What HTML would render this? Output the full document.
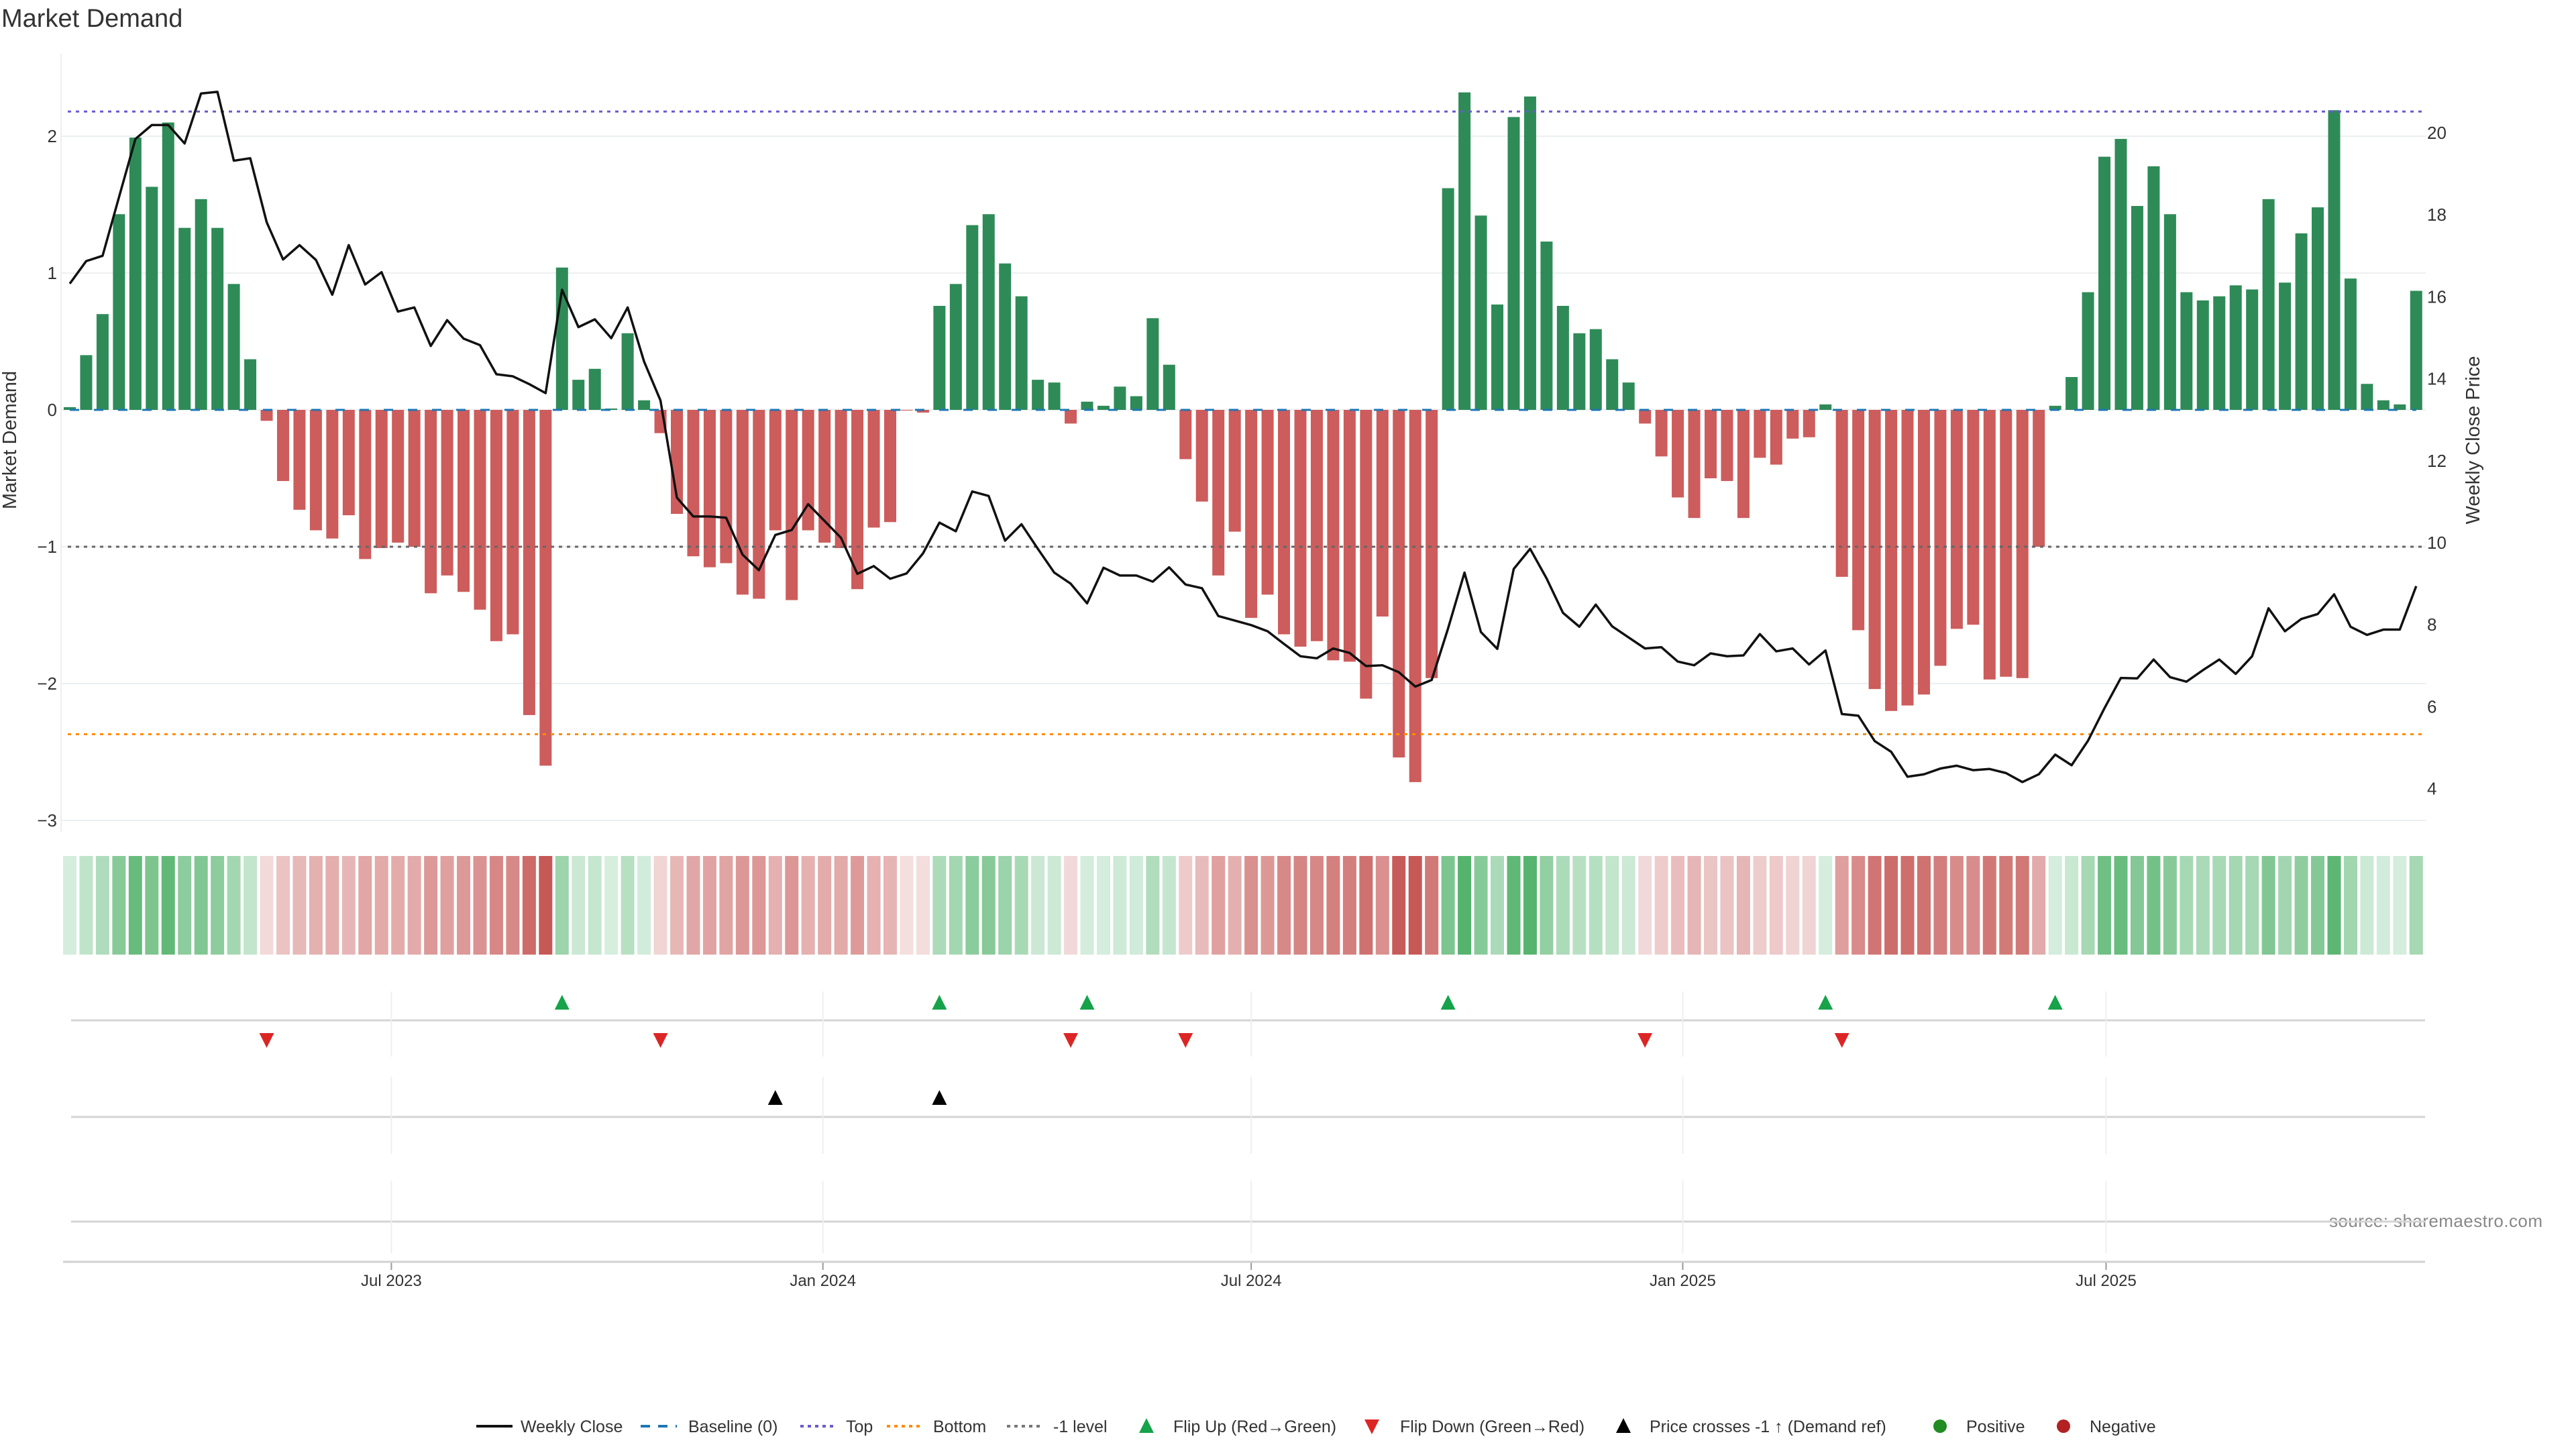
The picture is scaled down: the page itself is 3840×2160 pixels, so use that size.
<!DOCTYPE html>
<html><head><meta charset="utf-8"><style>
html,body{margin:0;padding:0;background:#fff;}
svg{display:block;font-family:"Liberation Sans","DejaVu Sans",sans-serif;}
</style></head><body>
<svg id="chart" width="3840" height="2160" viewBox="0 0 3840 2160" xmlns="http://www.w3.org/2000/svg">
<text x="2" y="40" font-size="38" fill="#333">Market Demand</text>
<text transform="translate(24,656) rotate(-90)" text-anchor="middle" font-size="29" fill="#333">Market Demand</text>
<text transform="translate(3696,656) rotate(-90)" text-anchor="middle" font-size="29" fill="#333">Weekly Close Price</text>
<text x="3472" y="1829" font-size="26" fill="#888" textLength="318">source: sharemaestro.com</text>
<g id="grid"></g><g id="bars"></g><g id="refs"></g><g id="price"></g><g id="heat"></g><g id="events"></g><g id="xaxis"></g>
<g id="legend"></g>
</svg>
<script>
const demand=[0.02,0.40,0.70,1.43,1.99,1.63,2.10,1.33,1.54,1.33,0.92,0.37,-0.08,-0.52,-0.73,-0.88,-0.94,-0.77,-1.09,-1.01,-0.97,-1.00,-1.34,-1.21,-1.33,-1.46,-1.69,-1.64,-2.23,-2.60,1.04,0.22,0.30,0.01,0.56,0.07,-0.17,-0.76,-1.07,-1.15,-1.12,-1.35,-1.38,-0.88,-1.39,-0.88,-0.97,-1.01,-1.31,-0.86,-0.82,-0.005,-0.02,0.76,0.92,1.35,1.43,1.07,0.83,0.22,0.20,-0.10,0.06,0.03,0.17,0.10,0.67,0.33,-0.36,-0.67,-1.21,-0.89,-1.52,-1.35,-1.64,-1.73,-1.69,-1.83,-1.84,-2.11,-1.51,-2.54,-2.72,-1.96,1.62,2.32,1.42,0.77,2.14,2.29,1.23,0.76,0.56,0.59,0.37,0.20,-0.10,-0.34,-0.64,-0.79,-0.50,-0.52,-0.79,-0.35,-0.40,-0.21,-0.20,0.04,-1.22,-1.61,-2.04,-2.20,-2.16,-2.08,-1.87,-1.60,-1.57,-1.97,-1.95,-1.96,-1.00,0.03,0.24,0.86,1.85,1.98,1.49,1.78,1.43,0.86,0.80,0.83,0.91,0.88,1.54,0.93,1.29,1.48,2.19,0.96,0.19,0.07,0.04,0.87];
const price=[16.32,16.87,17.0,18.43,19.85,20.19,20.19,19.74,20.96,21.0,19.32,19.38,17.82,16.91,17.26,16.9,16.05,17.26,16.3,16.6,15.64,15.74,14.8,15.43,14.98,14.82,14.11,14.06,13.87,13.65,16.17,15.26,15.45,14.99,15.74,14.42,13.47,11.1,10.64,10.64,10.61,9.71,9.33,10.19,10.31,10.94,10.53,10.12,9.24,9.43,9.12,9.25,9.74,10.49,10.28,11.25,11.14,10.05,10.45,9.85,9.27,9.0,8.52,9.39,9.2,9.2,9.05,9.4,8.98,8.89,8.21,8.1,7.99,7.84,7.53,7.23,7.18,7.42,7.31,6.99,7.01,6.84,6.49,6.65,7.91,9.27,7.82,7.41,9.36,9.85,9.13,8.29,7.95,8.49,7.96,7.69,7.42,7.45,7.1,7.01,7.3,7.23,7.25,7.77,7.35,7.42,7.03,7.37,5.82,5.78,5.16,4.9,4.29,4.35,4.49,4.56,4.45,4.48,4.38,4.16,4.35,4.83,4.57,5.17,5.96,6.70,6.69,7.15,6.72,6.61,6.89,7.15,6.8,7.23,8.4,7.84,8.14,8.26,8.74,7.95,7.75,7.88,7.88,8.94];
const yTicks=[2,1,0,-1,-2,-3];
const y2Ticks=[4,6,8,10,12,14,16,18,20];
const xTickLabels=["Jul 2023","Jan 2024","Jul 2024","Jan 2025","Jul 2025"];
const xTickWeeks=[19.6,45.9,72.0,98.3,124.1];
const topLevel=2.18, bottomLevel=-2.37, refLevel=-1, priceRef=10;

const NS="http://www.w3.org/2000/svg";
function mk(tag,attrs,parent){const e=document.createElementNS(NS,tag);for(const k in attrs)e.setAttribute(k,attrs[k]);parent.appendChild(e);return e;}
const X0=104,DX=24.46,XL=91,XR=3616;
const xs=i=>X0+i*DX;
const y=v=>611-v*204;
const y2=p=>198+(20-p)*61.1;
const G=id=>document.getElementById(id);

const grid=G('grid');
yTicks.forEach(t=>{
  const l=mk('line',{x1:XL,x2:XR,y1:y(t),y2:y(t),stroke:'#eceff2','stroke-width':2},grid);
  
  
  const tx=mk('text',{x:85,y:y(t)+9,'text-anchor':'end','font-size':26,fill:'#333'},grid);
  tx.textContent=(t<0?'\u2212'+(-t):t);
  
  
});
mk('line',{x1:XL,x2:XL,y1:80,y2:1240,stroke:'#eceff2','stroke-width':2},grid);
y2Ticks.forEach(t=>{
  const tx=mk('text',{x:3618,y:y2(t)+9,'font-size':26,fill:'#333'},grid);
  tx.textContent=t;
  
  
});

const bars=G('bars');
demand.forEach((v,i)=>{
  const top=Math.min(y(v),y(0)),h=Math.abs(y(v)-y(0));
  const r=mk('rect',{x:xs(i)-9,y:top,width:18,height:Math.max(h,0.5),fill:v>=0?'#2e8b57':'#cd5c5c'},bars);
  
  
});

const refs=G('refs');
function ref(v,col,dash,name){const l=mk('line',{x1:XL+10,x2:XR,y1:y(v),y2:y(v),stroke:col,'stroke-width':3,'stroke-dasharray':dash},refs);
  
  }
ref(topLevel,'#6a5acd','5 7','top-line');
ref(bottomLevel,'#ff8c00','5 7','bottom-line');
ref(refLevel,'#666','5 7','minus-one-level-line');
const bl=mk('line',{x1:X0,x2:xs(demand.length-1),y1:y(0),y2:y(0),stroke:'#1f77b4','stroke-width':3,'stroke-dasharray':'14 22'},refs);



const pl=mk('polyline',{points:price.map((p,i)=>xs(i)+','+y2(p)).join(' '),fill:'none',stroke:'#111','stroke-width':3.5,'stroke-linejoin':'round'},G('price'));



const heat=G('heat');
function mix(a,b,t){return 'rgb('+a.map((c,k)=>Math.round(c+(b[k]-c)*t)).join(',')+')';}
demand.forEach((v,i)=>{
  const t=Math.min(Math.abs(v)/2.6,1);
  const col=v>=0?mix([214,238,222],[70,172,95],t):mix([244,222,222],[198,88,86],t);
  const r=mk('rect',{x:xs(i)-10,y:1276,width:20,height:147,fill:col},heat);
  
  
});

const ev=G('events');
[1521,1665,1821].forEach(yy=>{const l=mk('line',{x1:106,x2:3615,y1:yy,y2:yy,stroke:'#d4d4d4','stroke-width':3},ev);
  
  });
const xt=G('xaxis');
xTickWeeks.forEach((w,k)=>{
  const gx=xs(w);
  [[1478,1575],[1605,1720],[1760,1868]].forEach(s=>{mk('line',{x1:gx,x2:gx,y1:s[0],y2:s[1],stroke:'#eceff2','stroke-width':2},ev);});
  mk('line',{x1:gx,x2:gx,y1:1881,y2:1893,stroke:'#999','stroke-width':2},xt);
  const tx=mk('text',{x:gx,y:1917,'text-anchor':'middle','font-size':24,fill:'#333'},xt);
  tx.textContent=xTickLabels[k];
  
  
});
const ax=mk('line',{x1:94,x2:3615,y1:1881,y2:1881,stroke:'#d0d0d0','stroke-width':3},xt);


function tri(cx,cy,up,col){const s=11;const pts=up?`${cx},${cy-s} ${cx-s},${cy+s} ${cx+s},${cy+s}`:`${cx},${cy+s} ${cx-s},${cy-s} ${cx+s},${cy-s}`;return mk('polygon',{points:pts,fill:col},ev);}
for(let i=1;i<demand.length;i++){
  if(demand[i-1]<0&&demand[i]>=0){const t=tri(xs(i),1494,true,'#16a34a');
    
    }
  if(demand[i-1]>=0&&demand[i]<0){const t=tri(xs(i),1551,false,'#dc2626');
    
    }
  if(price[i-1]<priceRef&&price[i]>=priceRef){const t=tri(xs(i),1636,true,'#000');
    
    }
}

const lg=G('legend');const LY=2126;
function ltext(x,s){const t=mk('text',{x:x,y:LY+9,'font-size':25,fill:'#333'},lg);t.textContent=s;}
mk('line',{x1:710,x2:764,y1:LY,y2:LY,stroke:'#111','stroke-width':4},lg);ltext(776,'Weekly Close');
mk('line',{x1:955,x2:1009,y1:LY,y2:LY,stroke:'#1f77b4','stroke-width':4,'stroke-dasharray':'14 12'},lg);ltext(1026,'Baseline (0)');
mk('line',{x1:1193,x2:1247,y1:LY,y2:LY,stroke:'#6a5acd','stroke-width':4,'stroke-dasharray':'5 6'},lg);ltext(1261,'Top');
mk('line',{x1:1322,x2:1376,y1:LY,y2:LY,stroke:'#ff8c00','stroke-width':4,'stroke-dasharray':'5 6'},lg);ltext(1391,'Bottom');
mk('line',{x1:1501,x2:1555,y1:LY,y2:LY,stroke:'#777','stroke-width':4,'stroke-dasharray':'5 6'},lg);ltext(1570,'-1 level');
mk('polygon',{points:`1709,${LY-12} 1698,${LY+10} 1720,${LY+10}`,fill:'#16a34a'},lg);ltext(1749,'Flip Up (Red\u2192Green)');
mk('polygon',{points:`2045,${LY+12} 2034,${LY-10} 2056,${LY-10}`,fill:'#dc2626'},lg);ltext(2087,'Flip Down (Green\u2192Red)');
mk('polygon',{points:`2420,${LY-12} 2409,${LY+10} 2431,${LY+10}`,fill:'#000'},lg);ltext(2459,'Price crosses -1 \u2191 (Demand ref)');
mk('circle',{cx:2892,cy:LY,r:10,fill:'#228b22'},lg);ltext(2931,'Positive');
mk('circle',{cx:3076,cy:LY,r:10,fill:'#b22222'},lg);ltext(3115,'Negative');
</script>
</body></html>
